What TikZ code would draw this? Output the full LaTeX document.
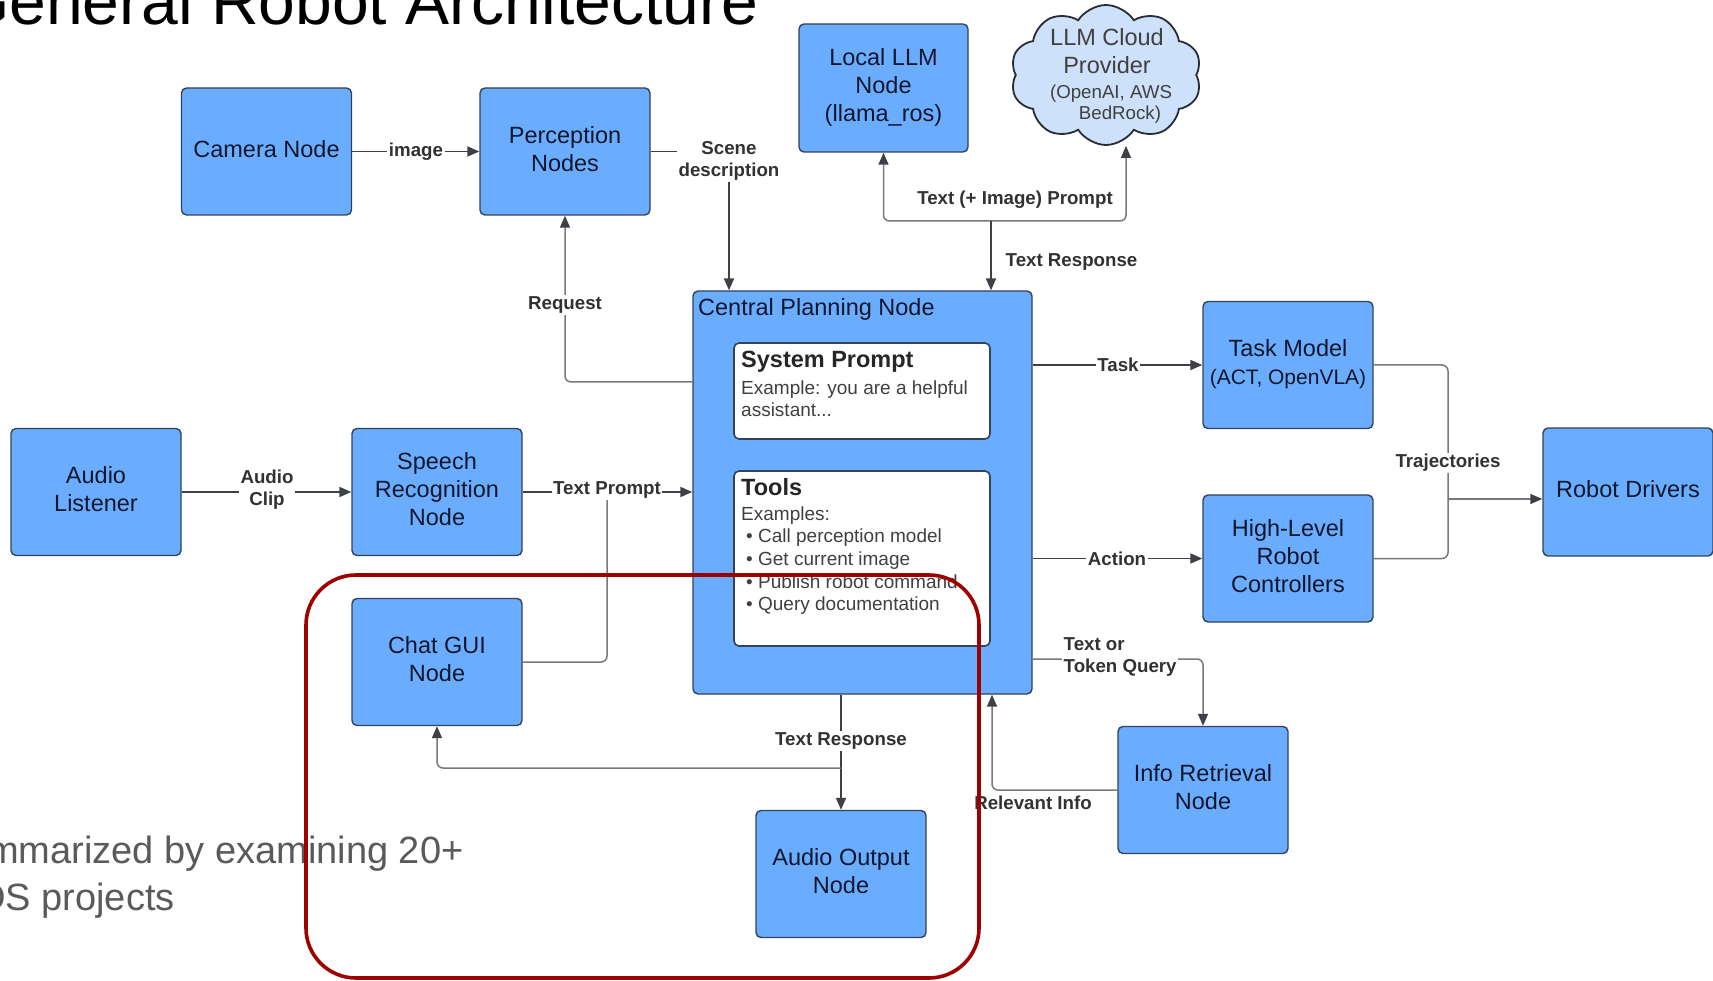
\documentclass[tikz,border=0pt]{standalone}
\usepackage{fontspec}
\setmainfont{Liberation Sans}
\usetikzlibrary{arrows.meta, shapes.symbols}

\definecolor{nodeblue}{RGB}{106,173,255}
\definecolor{nodeedge}{RGB}{52,66,88}
\definecolor{nodetext}{RGB}{16,22,44}
\definecolor{linedark}{RGB}{62,64,70}
\definecolor{linelight}{RGB}{118,120,126}
\definecolor{labeltext}{RGB}{50,50,50}
\definecolor{cloudfill}{RGB}{205,225,250}
\definecolor{cloudedge}{RGB}{40,44,54}
\definecolor{framered}{RGB}{158,0,0}
\definecolor{notegray}{RGB}{90,90,90}
\definecolor{paneltxt}{RGB}{64,64,64}

\tikzset{
  box/.style={rectangle, rounded corners=5pt, draw=nodeedge, line width=1.4pt,
    fill=nodeblue, text=nodetext, align=center, minimum width=170pt,
    minimum height=127pt, inner sep=0pt, text depth=6pt,
    font=\fontsize{23.5}{28}\selectfont},
  panel/.style={rectangle, rounded corners=5pt, draw=nodeedge, line width=1.6pt,
    fill=white, inner sep=0pt},
  paneltitle/.style={anchor=base west, inner sep=0pt, text=black!85,
    font=\fontsize{23.5}{28}\selectfont\bfseries},
  paneltext/.style={anchor=base west, inner sep=0pt, text=paneltxt,
    font=\fontsize{19}{22.7}\selectfont},
  tip/.style={-{Triangle[length=12pt,width=10pt,color=linedark]}},
  dk/.style={draw=linedark, line width=1.8pt},
  lt/.style={draw=linelight, line width=1.5pt, rounded corners=6pt},
  lbl/.style={font=\fontsize{18.7}{22}\selectfont\bfseries, text=labeltext,
    align=center, inner sep=1.5pt},
  lblbg/.style={lbl, fill=white},
  cloudtxt/.style={anchor=base, inner sep=0pt, text=black!75},
}

\begin{document}
\begin{tikzpicture}[x=1pt, y=-1pt]
  \useasboundingbox (0,0) rectangle (1713,981);
  \fill[white] (0,0) rectangle (1713,981);
  \clip (0,0) rectangle (1713,981);

  % slide text around the diagram
  \node[anchor=base west, inner sep=0pt, font=\fontsize{66}{70}\selectfont]
    (title) at (-42,25) {General Robot Architecture};
  \node[anchor=base west, inner sep=0pt, text=notegray, font=\fontsize{38}{46}\selectfont]
    (note1) at (-13,863) {mmarized by examining 20+};
  \node[anchor=base west, inner sep=0pt, text=notegray, font=\fontsize{38}{46}\selectfont]
    (note2) at (-24,910) {OS projects};

  % nodes
  \node[box] (camera) at (266.5,151.5) {Camera Node};
  \node[box] (percep) at (565,151.5) {Perception\\Nodes};
  \node[box, minimum width=169pt, minimum height=128pt] (local) at (883.5,88)
    {Local LLM\\Node\\(llama\_ros)};
  \node[cloud, cloud puffs=10, cloud puff arc=115, cloud ignores aspect,
    minimum width=191pt, minimum height=140pt, draw=cloudedge, fill=cloudfill,
    line width=1.8pt, inner sep=0pt] (cloud) at (1106,75) {};
  \node[cloudtxt, font=\fontsize{23.5}{28}\selectfont] (cloudA) at (1107,45.5) {LLM Cloud};
  \node[cloudtxt, font=\fontsize{23.5}{28}\selectfont] (cloudB) at (1107,73.5) {Provider};
  \node[cloudtxt, font=\fontsize{18.7}{22}\selectfont] (cloudC) at (1111,98.5) {(OpenAI, AWS};
  \node[cloudtxt, font=\fontsize{18.7}{22}\selectfont] (cloudD) at (1120,119.5) {BedRock)};

  \node[box, minimum width=339pt, minimum height=403pt] (central) at (862.5,492.5) {};
  \node[anchor=base west, inner sep=0pt, text=nodetext, font=\fontsize{23.5}{28}\selectfont]
    (cpTitle) at (698,315.5) {Central Planning Node};
  \node[panel, minimum width=256pt, minimum height=96pt] (sysp) at (862,391) {};
  \node[paneltitle] (spTitle) at (741,368) {System Prompt};
  \node[paneltext] (spLine1) at (741,394) {Example: you are a helpful};
  \node[paneltext] (spLine2) at (741,416.7) {assistant...};
  \node[panel, minimum width=256pt, minimum height=175pt] (tools) at (862,558.5) {};
  \node[paneltitle] (tlTitle) at (741,495.3) {Tools};
  \node[paneltext] (tlLine1) at (741,520) {Examples:};
  \node[paneltext] (tlLine2) at (746,542.7) {• Call perception model};
  \node[paneltext] (tlLine3) at (746,565.4) {• Get current image};
  \node[paneltext] (tlLine4) at (746,588.1) {• Publish robot command};
  \node[paneltext] (tlLine5) at (746,610.8) {• Query documentation};

  \node[box] (task) at (1288,365) {Task Model\\{\fontsize{21}{28}\selectfont (ACT, OpenVLA)}};
  \node[box] (hlrc) at (1288,558.5) {High-Level\\Robot\\Controllers};
  \node[box, minimum height=128pt] (drivers) at (1628,492) {Robot Drivers};
  \node[box] (listen) at (96,492) {Audio\\Listener};
  \node[box] (speech) at (437,492) {Speech\\Recognition\\Node};
  \node[box] (chat) at (437,662) {Chat GUI\\Node};
  \node[box] (aout) at (841,874) {Audio Output\\Node};
  \node[box] (info) at (1203,790) {Info Retrieval\\Node};

  % camera to perception
  \draw[dk, tip] (camera.east) -- (percep.west);
  \node[lblbg] (lImage) at (416,151.5) {image};

  % perception to central planning
  \coordinate (sceneX) at (729,161);
  \draw[dk, tip] (percep.east) -| (sceneX |- central.north);
  \node[lblbg] (lScene) at (sceneX) {Scene\\description};

  % central planning requests perception
  \coordinate (reqY) at (565,382);
  \draw[lt, tip] (central.west |- reqY) -| (percep.south);
  \node[lblbg] (lReq) at (565,305) {Request};

  % language model calls
  \coordinate (llmJ) at (991,221);
  \draw[lt, tip] (llmJ) -| (local.south);
  \draw[lt, tip] (llmJ) -| ([xshift=20pt]cloud.south);
  \draw[dk, tip] (llmJ) -- (llmJ |- central.north);
  \node[lbl] (lPrompt) at (1015,200) {Text (+ Image) Prompt};
  \node[lbl, anchor=west] (lResp) at (1004,262) {Text Response};

  % task and action outputs
  \draw[dk, tip] (central.east |- task.west) -- (task.west);
  \node[lblbg] (lTask) at (1118,365) {Task};
  \draw[dk, tip] (central.east |- hlrc.west) -- (hlrc.west);
  \node[lblbg] (lAction) at (1117,558.5) {Action};

  % trajectories to the drivers
  \coordinate (trajJ) at (1448,499);
  \draw[lt] (task.east) -| (trajJ);
  \draw[lt] (hlrc.east) -| (trajJ);
  \draw[lt, tip] (trajJ) -- (trajJ -| drivers.west);
  \node[lblbg] (lTraj) at (1448,463) {Trajectories};

  % audio input chain
  \draw[dk, tip] (listen.east) -- (speech.west);
  \node[lblbg] (lClip) at (267,490) {Audio\\Clip};
  \coordinate (promptJ) at (607,492);
  \draw[lt] (chat.east) -| (promptJ);
  \draw[dk, tip] (speech.east) -- (speech.east -| central.west);
  \node[lblbg] (lTP) at (607,490) {Text Prompt};

  % responses back to the user
  \coordinate (respJ) at (841,768);
  \draw[dk, tip] (central.south -| aout.north) -- (aout.north);
  \draw[lt, tip] (respJ) -| (chat.south);
  \node[lblbg] (lResp2) at (841,741) {Text Response};

  % information retrieval
  \coordinate (queryY) at (0,659);
  \draw[lt, tip] (central.east |- queryY) -| (info.north);
  \node[lblbg, align=left, anchor=west] (lQuery) at (1062,657) {Text or\\Token Query};
  \coordinate (relX) at (992,0);
  \draw[lt, tip] (info.west) -| (central.south -| relX);
  \node[lbl] (lRel) at (1033,803) {Relevant Info};

  % highlight frame
  \draw[draw=framered, line width=3.6pt, rounded corners=50pt]
    (306,575) rectangle (979,978);
\end{tikzpicture}
\end{document}
